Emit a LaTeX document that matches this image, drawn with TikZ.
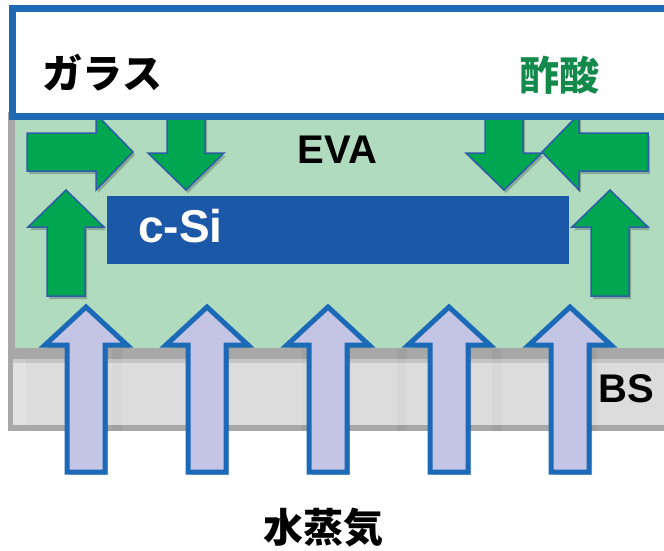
\documentclass[tikz,border=0pt]{standalone}
\usepackage{fontspec}
\setmainfont{Liberation Sans}
\newfontfamily\jpfont{Noto Sans CJK JP}
\definecolor{glassblue}{HTML}{1F6AB5}
\definecolor{evagreen}{HTML}{B0DBBE}
\definecolor{edgegray}{HTML}{A8A8A8}
\definecolor{bsfill}{HTML}{DCDCDD}
\definecolor{bsstripe}{HTML}{D7D7D8}
\definecolor{bslight}{HTML}{E2E2E3}
\definecolor{edgestripe}{HTML}{A0A0A0}
\definecolor{csiblue}{HTML}{1B58A7}
\definecolor{arrgreen}{HTML}{00A650}
\definecolor{arrgreenline}{HTML}{2E5DA8}
\definecolor{lav}{HTML}{C4C5E4}
\definecolor{lavline}{HTML}{1C6AB7}
\definecolor{acidgreen}{HTML}{138A4B}
\tikzset{
  garrline/.style={draw=arrgreenline, line width=1.5, fill=arrgreen, line join=miter},
  lavline/.style={draw=lavline, line width=5, fill=lav, line join=miter},
  shade/.style={fill=black, opacity=0.22},
  pics/garr/.style n args={3}{code={
    \fill[shade, shift={(#2,#3)}] (0,0) -- (38,37) -- (19,37) -- (19,#1) -- (-19,#1) -- (-19,37) -- (-38,37) -- cycle;
    \path[garrline] (0,0) -- (38,37) -- (19,37) -- (19,#1) -- (-19,#1) -- (-19,37) -- (-38,37) -- cycle;
  }},
  pics/lavarr/.style={code={
    \fill[shade, shift={(3,3)}] (0,0) -- (41,38) -- (19,38) -- (19,165) -- (-19,165) -- (-19,38) -- (-41,38) -- cycle;
    \path[lavline] (0,0) -- (41,38) -- (19,38) -- (19,165) -- (-19,165) -- (-19,38) -- (-41,38) -- cycle;
  }},
  lbl/.style={inner sep=0, font=\fontsize{40}{40}\selectfont\bfseries},
  jlbl/.style={inner sep=0, font=\fontsize{40}{40}\selectfont\jpfont\bfseries}
}
\begin{document}
\begin{tikzpicture}[x=1pt,y=-1pt]
\useasboundingbox (0,0) rectangle (664,551);
\fill[white] (0,0) rectangle (664,551);
% EVA layer
\fill[edgegray] (8,112) rectangle (664,352);
\fill[evagreen] (15,112) rectangle (664,348);
% BS layer
\fill[edgegray] (8,348) rectangle (664,431);
\fill[bsfill] (13,359) rectangle (664,425);
\fill[bslight] (13,359) rectangle (26,425);
\foreach \sx in {112,207,302,397,492,587} {
  \fill[bsstripe] (\sx,359) rectangle (\sx+10,425);
  \fill[edgestripe] (\sx,349) rectangle (\sx+10,359);
  \fill[edgestripe] (\sx,425) rectangle (\sx+10,431);
}
\fill[black, opacity=0.10] (13,359) rectangle (664,363);
% c-Si
\fill[csiblue] (107,196) rectangle (569,264);
% green arrows
\pic at (66,190) {garr={106}{2}{3}};
\pic at (610,190) {garr={106}{2}{3}};
\pic[rotate=180] at (186,190) {garr={75}{-2}{-3}};
\pic[rotate=180] at (504,190) {garr={75}{-2}{-3}};
\pic[rotate=-90] at (133,152) {garr={106}{3}{-2}};
\pic[rotate=90] at (542,152) {garr={106}{-3}{2}};
% glass
\draw[glassblue, line width=7, fill=white] (12.5,9) rectangle (690,116);
% water vapour arrows
\foreach \ax in {86,207,328,449,570} {
  \pic at (\ax,307) {lavarr};
}
% labels
\node[jlbl] (glass) at (102.5,73) {ガラス};
\node[jlbl, text=acidgreen] (acid) at (559,75) {酢酸};
\node[lbl] (eva) at (337.5,150) {EVA};
\node[lbl, text=white, font=\fontsize{46}{46}\selectfont\bfseries] (csi) at (180.5,226) {c-Si};
\node[lbl] (bs) at (626.5,389) {BS};
\node[jlbl] (vapour) at (323.5,528) {水蒸気};
\end{tikzpicture}
\end{document}
